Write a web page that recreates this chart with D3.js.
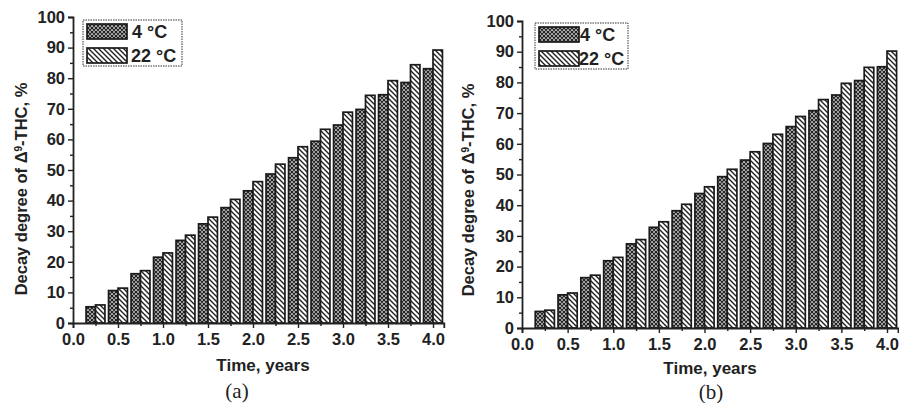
<!DOCTYPE html>
<html><head><meta charset="utf-8">
<script src="https://cdn.jsdelivr.net/npm/d3@7"></script>
<style>
body{margin:0;background:#fff;}
svg{display:block;}
text{font-family:"Liberation Sans",Arial,sans-serif;font-weight:bold;fill:#222;}
</style></head>
<body>
<svg id="chart" width="899" height="403"></svg>
<script>
const times = [0.25,0.5,0.75,1.0,1.25,1.5,1.75,2.0,2.25,2.5,2.75,3.0,3.25,3.5,3.75,4.0];
const seriesNames = ["4 °C","22 °C"];
const a4C  = [5.3,10.6,16.1,21.5,27.0,32.4,37.7,43.2,48.7,54.0,59.4,64.7,69.8,74.6,78.6,83.1];
const a22C = [5.9,11.4,17.1,22.9,28.7,34.6,40.4,46.2,51.9,57.6,63.3,68.9,74.4,79.2,84.4,89.2];
const b4C  = [5.4,10.8,16.4,21.9,27.4,32.8,38.2,43.8,49.3,54.7,60.1,65.6,70.8,75.9,80.6,85.1];
const b22C = [5.8,11.4,17.2,23.0,28.8,34.6,40.3,46.0,51.7,57.4,63.1,68.9,74.4,79.7,84.9,90.2];
const yTicks = [0,10,20,30,40,50,60,70,80,90,100];
const xTicks = [0,0.5,1.0,1.5,2.0,2.5,3.0,3.5,4.0];
const panelLabels = ["(a)","(b)"];

const svg = d3.select("#chart");
const defs = svg.append("defs");
const pc = defs.append("pattern").attr("id","cross").attr("patternUnits","userSpaceOnUse")
  .attr("width",4).attr("height",4);
pc.append("rect").attr("width",4).attr("height",4).attr("fill","#fff");
pc.append("path").attr("d","M0,0L4,4M4,0L0,4M-1,3L1,5M3,-1L5,1M-1,1L1,-1M3,5L5,3")
  .attr("stroke","#222").attr("stroke-width",1.35);
const pd = defs.append("pattern").attr("id","diag").attr("patternUnits","userSpaceOnUse")
  .attr("width",5).attr("height",5);
pd.append("rect").attr("width",5).attr("height",5).attr("fill","#fff");
pd.append("path").attr("d","M0,0L5,5M-1,4L1,6M4,-1L6,1")
  .attr("stroke","#222").attr("stroke-width",1.4);

const fills = ["url(#cross)","url(#diag)"];

const panels = [
  {left:73, pxPerYear:90, top:17, bottom:323, d1:a4C, d2:a22C,
   legend:{x:83,y:20,w:99,h:46,sw:40,tx:131}, xTitle:{x:263,y:371}, lab:{x:237,y:398}, yTitle:{x:21,y:189}},
  {left:522, pxPerYear:91.25, top:21, bottom:328, d1:b4C, d2:b22C,
   legend:{x:535,y:23,w:93,h:46,sw:40,tx:579}, xTitle:{x:710,y:374}, lab:{x:711,y:399}, yTitle:{x:468,y:190}}
];

panels.forEach((p,pi)=>{
  const xMax = 4.12;
  const x = d3.scaleLinear().domain([0,xMax]).range([p.left, p.left + xMax*p.pxPerYear]);
  const y = d3.scaleLinear().domain([0,100]).range([p.bottom,p.top]);
  const g = svg.append("g");
  const bw = 0.105;
  const data = [p.d1,p.d2];
  data.forEach((vals,si)=>{
    g.selectAll(null).data(times).enter().append("rect")
      .attr("x",(t)=> si===0 ? x(t-bw) : x(t))
      .attr("y",(t,i)=>y(vals[i]))
      .attr("width",x(bw)-x(0))
      .attr("height",(t,i)=>y(0)-y(vals[i]))
      .attr("fill",fills[si]).attr("stroke","#1a1a1a").attr("stroke-width",1.7);
  });
  g.append("g").attr("transform",`translate(${p.left},0)`)
    .call(d3.axisLeft(y).tickValues(yTicks).tickSize(5).tickPadding(3).tickFormat(d3.format("d")));
  g.append("g").attr("transform",`translate(${p.left},0)`)
    .call(d3.axisLeft(y).tickValues(d3.range(5,100,10)).tickSize(3).tickFormat(""))
    .select(".domain").remove();
  g.append("g").attr("transform",`translate(0,${p.bottom})`)
    .call(d3.axisBottom(x).tickValues(xTicks).tickSize(5).tickPadding(5).tickFormat(d3.format(".1f")));
  g.append("g").attr("transform",`translate(0,${p.bottom})`)
    .call(d3.axisBottom(x).tickValues(d3.range(0.25,4.1,0.5)).tickSize(3).tickFormat(""))
    .select(".domain").remove();
  g.selectAll(".domain").attr("stroke","#222").attr("stroke-width",1.8);
  g.selectAll(".tick line").attr("stroke","#222").attr("stroke-width",1.4);
  g.selectAll(".tick text").style("font-size","16.5px").style("font-family","Liberation Sans, Arial, sans-serif").style("font-weight","bold").attr("fill","#222");
  g.append("text").attr("x",p.xTitle.x).attr("y",p.xTitle.y).attr("text-anchor","middle")
    .style("font-size","17px").text("Time, years");
  const yt = g.append("text").attr("transform",`translate(${p.yTitle.x},${p.yTitle.y}) rotate(-90)`)
    .attr("text-anchor","middle").attr("dy","0.35em").style("font-size","16.5px");
  yt.append("tspan").text("Decay degree of Δ");
  yt.append("tspan").attr("baseline-shift","super").style("font-size","10px").text("9");
  yt.append("tspan").text("-THC, %");
  g.append("text").attr("x",p.lab.x).attr("y",p.lab.y).attr("text-anchor","middle")
    .style("font-family","Liberation Serif, Times New Roman, serif").style("font-weight","normal")
    .style("font-size","21px").text(panelLabels[pi]);
  const L = p.legend;
  g.append("rect").attr("x",L.x).attr("y",L.y).attr("width",L.w).attr("height",L.h)
    .attr("fill","#fff").attr("stroke","#333").attr("stroke-width",1).attr("stroke-dasharray","1.5,1");
  seriesNames.forEach((s,si)=>{
    const yy = L.y + 4 + si*24;
    g.append("rect").attr("x",L.x+4).attr("y",yy).attr("width",L.sw).attr("height",15)
      .attr("fill",fills[si]).attr("stroke","#1a1a1a").attr("stroke-width",1.7);
    g.append("text").attr("x",L.tx + (si===0 ? 1 : 0)).attr("y",yy+14).style("font-size","18px").text(s);
  });
});
</script>
</body></html>
